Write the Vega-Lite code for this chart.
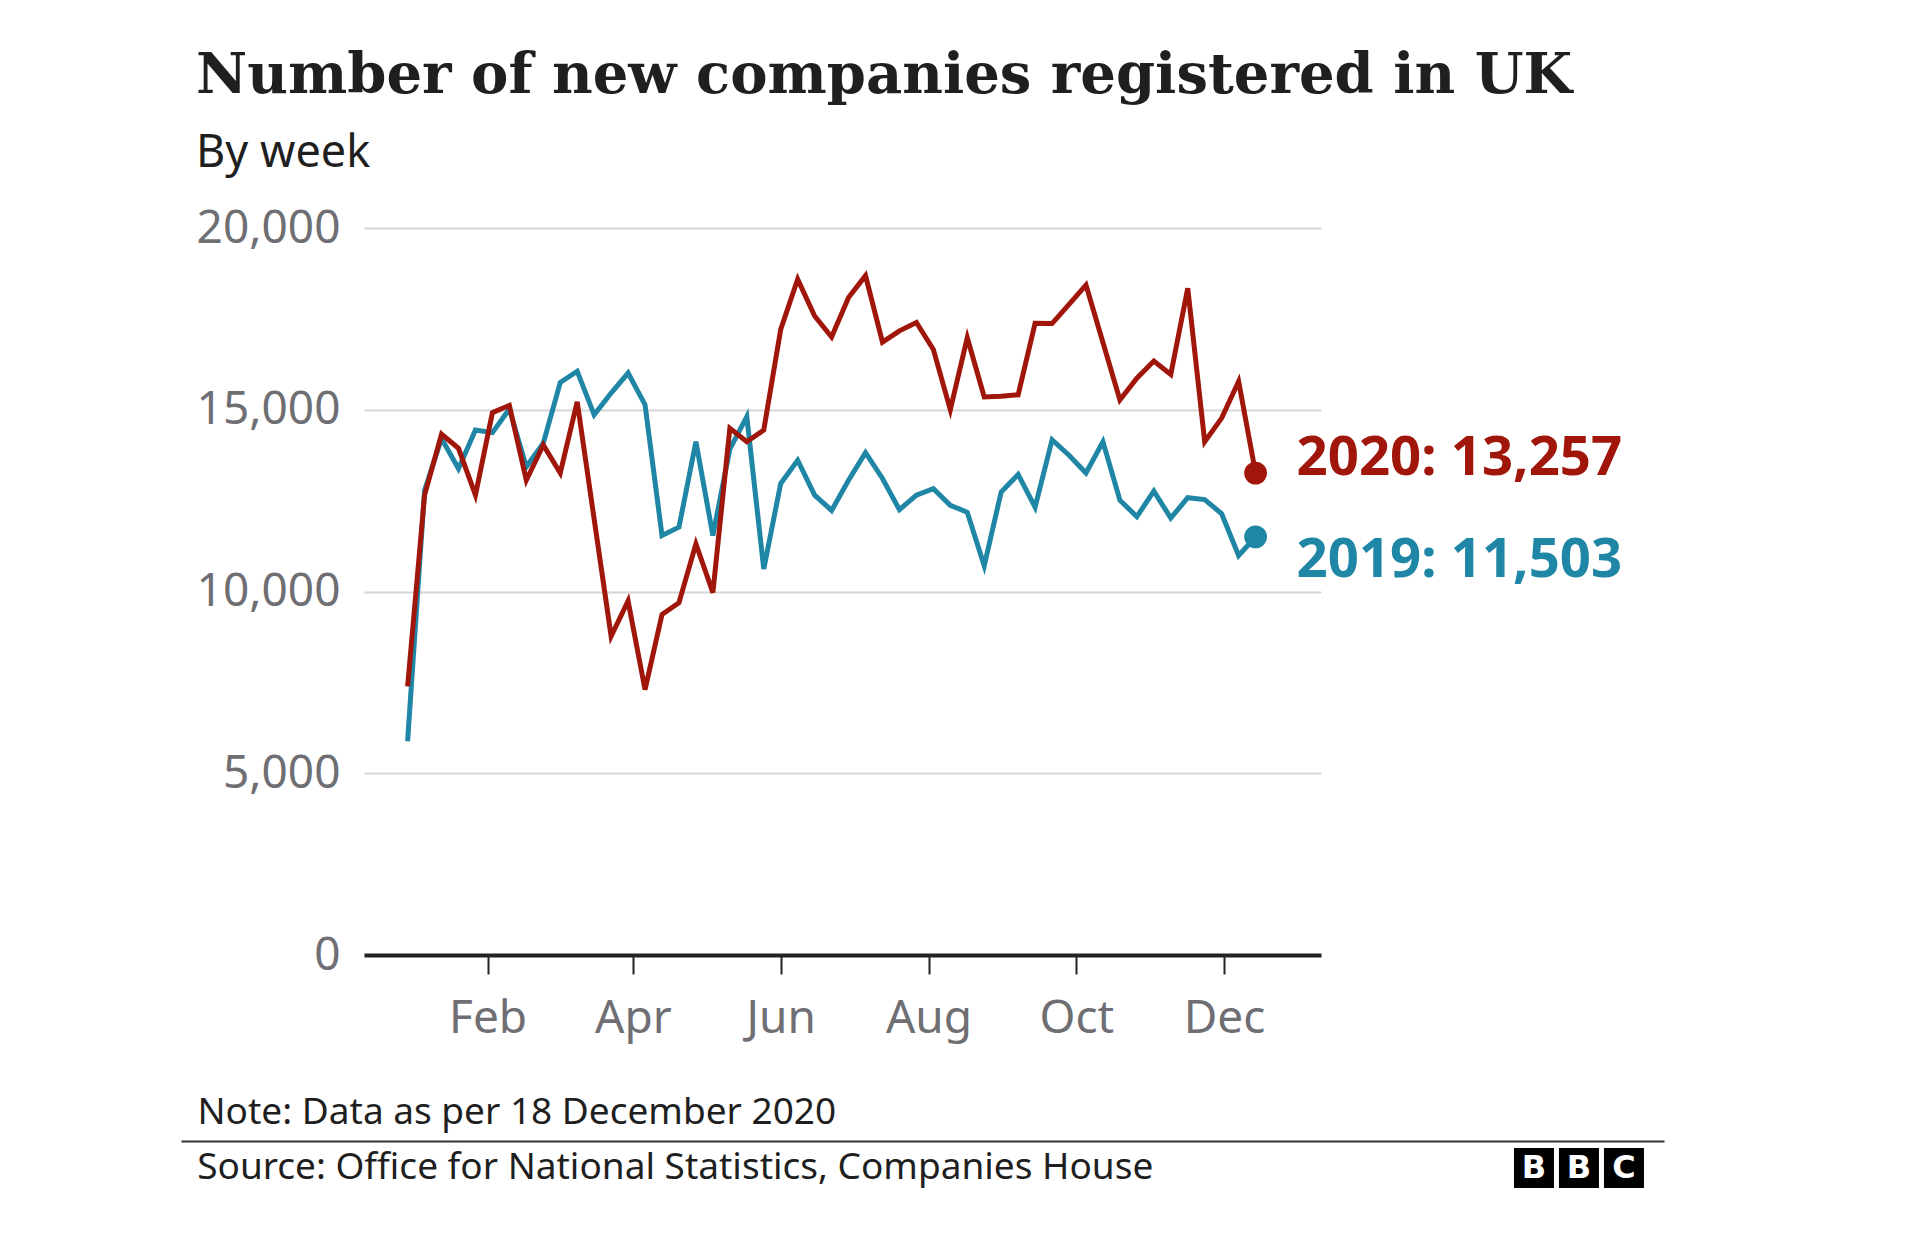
{
  "$schema": "https://vega.github.io/schema/vega-lite/v6.json",
  "background": "white",
  "padding": {"left": 196, "top": 48, "right": 10, "bottom": 10},
  "spacing": 52,
  "align": "none",
  "config": {"view": {"stroke": null}, "font": "Noto Sans"},
  "datasets": {
    "weekly": [
      {"year": "2019", "week": "2019-12-30", "companies": 5880},
      {"year": "2019", "week": "2020-01-06", "companies": 12780},
      {"year": "2019", "week": "2020-01-13", "companies": 14210},
      {"year": "2019", "week": "2020-01-20", "companies": 13380},
      {"year": "2019", "week": "2020-01-27", "companies": 14440},
      {"year": "2019", "week": "2020-02-03", "companies": 14370},
      {"year": "2019", "week": "2020-02-10", "companies": 15020},
      {"year": "2019", "week": "2020-02-17", "companies": 13430},
      {"year": "2019", "week": "2020-02-24", "companies": 14080},
      {"year": "2019", "week": "2020-03-02", "companies": 15750},
      {"year": "2019", "week": "2020-03-09", "companies": 16060},
      {"year": "2019", "week": "2020-03-16", "companies": 14860},
      {"year": "2019", "week": "2020-03-23", "companies": 15460},
      {"year": "2019", "week": "2020-03-30", "companies": 16010},
      {"year": "2019", "week": "2020-04-06", "companies": 15140},
      {"year": "2019", "week": "2020-04-13", "companies": 11540},
      {"year": "2019", "week": "2020-04-20", "companies": 11770},
      {"year": "2019", "week": "2020-04-27", "companies": 14120},
      {"year": "2019", "week": "2020-05-04", "companies": 11540},
      {"year": "2019", "week": "2020-05-11", "companies": 13920},
      {"year": "2019", "week": "2020-05-18", "companies": 14810},
      {"year": "2019", "week": "2020-05-25", "companies": 10620},
      {"year": "2019", "week": "2020-06-01", "companies": 12970},
      {"year": "2019", "week": "2020-06-08", "companies": 13610},
      {"year": "2019", "week": "2020-06-15", "companies": 12650},
      {"year": "2019", "week": "2020-06-22", "companies": 12230},
      {"year": "2019", "week": "2020-06-29", "companies": 13060},
      {"year": "2019", "week": "2020-07-06", "companies": 13820},
      {"year": "2019", "week": "2020-07-13", "companies": 13110},
      {"year": "2019", "week": "2020-07-20", "companies": 12250},
      {"year": "2019", "week": "2020-07-27", "companies": 12650},
      {"year": "2019", "week": "2020-08-03", "companies": 12830},
      {"year": "2019", "week": "2020-08-10", "companies": 12370},
      {"year": "2019", "week": "2020-08-17", "companies": 12180},
      {"year": "2019", "week": "2020-08-24", "companies": 10710},
      {"year": "2019", "week": "2020-08-31", "companies": 12740},
      {"year": "2019", "week": "2020-09-07", "companies": 13220},
      {"year": "2019", "week": "2020-09-14", "companies": 12320},
      {"year": "2019", "week": "2020-09-21", "companies": 14170},
      {"year": "2019", "week": "2020-09-28", "companies": 13750},
      {"year": "2019", "week": "2020-10-05", "companies": 13260},
      {"year": "2019", "week": "2020-10-12", "companies": 14120},
      {"year": "2019", "week": "2020-10-19", "companies": 12510},
      {"year": "2019", "week": "2020-10-26", "companies": 12060},
      {"year": "2019", "week": "2020-11-02", "companies": 12760},
      {"year": "2019", "week": "2020-11-09", "companies": 12020},
      {"year": "2019", "week": "2020-11-16", "companies": 12580},
      {"year": "2019", "week": "2020-11-23", "companies": 12530},
      {"year": "2019", "week": "2020-11-30", "companies": 12140},
      {"year": "2019", "week": "2020-12-07", "companies": 10990},
      {"year": "2019", "week": "2020-12-14", "companies": 11503},
      {"year": "2020", "week": "2019-12-30", "companies": 7390},
      {"year": "2020", "week": "2020-01-06", "companies": 12650},
      {"year": "2020", "week": "2020-01-13", "companies": 14330},
      {"year": "2020", "week": "2020-01-20", "companies": 13940},
      {"year": "2020", "week": "2020-01-27", "companies": 12650},
      {"year": "2020", "week": "2020-02-03", "companies": 14920},
      {"year": "2020", "week": "2020-02-10", "companies": 15120},
      {"year": "2020", "week": "2020-02-17", "companies": 13060},
      {"year": "2020", "week": "2020-02-24", "companies": 14030},
      {"year": "2020", "week": "2020-03-02", "companies": 13260},
      {"year": "2020", "week": "2020-03-09", "companies": 15220},
      {"year": "2020", "week": "2020-03-16", "companies": 11990},
      {"year": "2020", "week": "2020-03-23", "companies": 8770},
      {"year": "2020", "week": "2020-03-30", "companies": 9740},
      {"year": "2020", "week": "2020-04-06", "companies": 7300},
      {"year": "2020", "week": "2020-04-13", "companies": 9370},
      {"year": "2020", "week": "2020-04-20", "companies": 9690},
      {"year": "2020", "week": "2020-04-27", "companies": 11310},
      {"year": "2020", "week": "2020-05-04", "companies": 9970},
      {"year": "2020", "week": "2020-05-11", "companies": 14490},
      {"year": "2020", "week": "2020-05-18", "companies": 14120},
      {"year": "2020", "week": "2020-05-25", "companies": 14440},
      {"year": "2020", "week": "2020-06-01", "companies": 17210},
      {"year": "2020", "week": "2020-06-08", "companies": 18590},
      {"year": "2020", "week": "2020-06-15", "companies": 17580},
      {"year": "2020", "week": "2020-06-22", "companies": 17000},
      {"year": "2020", "week": "2020-06-29", "companies": 18090},
      {"year": "2020", "week": "2020-07-06", "companies": 18690},
      {"year": "2020", "week": "2020-07-13", "companies": 16860},
      {"year": "2020", "week": "2020-07-20", "companies": 17170},
      {"year": "2020", "week": "2020-07-27", "companies": 17400},
      {"year": "2020", "week": "2020-08-03", "companies": 16660},
      {"year": "2020", "week": "2020-08-10", "companies": 15000},
      {"year": "2020", "week": "2020-08-17", "companies": 16980},
      {"year": "2020", "week": "2020-08-24", "companies": 15350},
      {"year": "2020", "week": "2020-08-31", "companies": 15370},
      {"year": "2020", "week": "2020-09-07", "companies": 15410},
      {"year": "2020", "week": "2020-09-14", "companies": 17380},
      {"year": "2020", "week": "2020-09-21", "companies": 17370},
      {"year": "2020", "week": "2020-09-28", "companies": 17900},
      {"year": "2020", "week": "2020-10-05", "companies": 18430},
      {"year": "2020", "week": "2020-10-12", "companies": 16850},
      {"year": "2020", "week": "2020-10-19", "companies": 15270},
      {"year": "2020", "week": "2020-10-26", "companies": 15870},
      {"year": "2020", "week": "2020-11-02", "companies": 16340},
      {"year": "2020", "week": "2020-11-09", "companies": 15970},
      {"year": "2020", "week": "2020-11-16", "companies": 18340},
      {"year": "2020", "week": "2020-11-23", "companies": 14120},
      {"year": "2020", "week": "2020-11-30", "companies": 14770},
      {"year": "2020", "week": "2020-12-07", "companies": 15780},
      {"year": "2020", "week": "2020-12-14", "companies": 13257}
    ],
    "ends": [
      {"year": "2019", "week": "2020-12-14", "companies": 11503, "label": "2019: 11,503"},
      {"year": "2020", "week": "2020-12-14", "companies": 13257, "label": "2020: 13,257"}
    ],
    "logo": [
      {"slot": 1, "letter": "B"},
      {"slot": 2, "letter": "B"},
      {"slot": 3, "letter": "C"}
    ]
  },
  "vconcat": [
    {
      "width": 957,
      "height": 727,
      "title": {
        "text": "Number of new companies registered in UK",
        "subtitle": "By week",
        "anchor": "start",
        "font": "DejaVu Serif",
        "fontSize": 56,
        "fontWeight": "bold",
        "color": "#1f1f1f",
        "subtitleFont": "Noto Sans",
        "subtitleFontSize": 45,
        "subtitleColor": "#1f1f1f",
        "subtitlePadding": 26,
        "offset": 28
      },
      "encoding": {
        "x": {
          "field": "week",
          "type": "temporal",
          "scale": {
            "type": "utc",
            "domain": [
              {"year": 2019, "month": 12, "date": 12, "utc": true},
              {"year": 2021, "month": 1, "date": 10, "utc": true}
            ]
          },
          "axis": {
            "title": null,
            "values": [
              {"year": 2020, "month": 2, "date": 1, "utc": true},
              {"year": 2020, "month": 4, "date": 1, "utc": true},
              {"year": 2020, "month": 6, "date": 1, "utc": true},
              {"year": 2020, "month": 8, "date": 1, "utc": true},
              {"year": 2020, "month": 10, "date": 1, "utc": true},
              {"year": 2020, "month": 12, "date": 1, "utc": true}
            ],
            "labelExpr": "utcFormat(datum.value, '%b')",
            "labelFont": "Noto Sans",
            "labelFontSize": 46,
            "labelColor": "#6e6e73",
            "labelPadding": 22,
            "labelFlush": false,
            "labelOverlap": false,
            "tickColor": "#222222",
            "tickSize": 19,
            "tickWidth": 2,
            "domainColor": "#222222",
            "domainWidth": 4,
            "grid": false
          }
        },
        "y": {
          "field": "companies",
          "type": "quantitative",
          "scale": {"domain": [0, 20000], "nice": false},
          "axis": {
            "title": null,
            "values": [0, 5000, 10000, 15000, 20000],
            "labelExpr": "format(datum.value, ',')",
            "labelFont": "Noto Sans",
            "labelFontSize": 46,
            "labelColor": "#6e6e73",
            "labelPadding": 24,
            "ticks": false,
            "domain": false,
            "grid": true,
            "gridColor": "#d6d6d6",
            "gridWidth": 2
          }
        },
        "color": {
          "field": "year",
          "type": "nominal",
          "scale": {"domain": ["2019", "2020"], "range": ["#1f86a5", "#a1160b"]},
          "legend": null
        }
      },
      "layer": [
        {
          "data": {"name": "weekly"},
          "mark": {"type": "line", "strokeWidth": 5}
        },
        {
          "data": {"name": "ends"},
          "mark": {"type": "point", "filled": true, "size": 520, "opacity": 1}
        },
        {
          "data": {"name": "ends"},
          "transform": [{"filter": {"field": "year", "equal": "2020"}}],
          "mark": {"type": "text", "align": "left", "baseline": "middle", "dx": 41, "dy": -14, "font": "Noto Sans", "fontSize": 54.5, "fontWeight": "bold"},
          "encoding": {"text": {"field": "label"}}
        },
        {
          "data": {"name": "ends"},
          "transform": [{"filter": {"field": "year", "equal": "2019"}}],
          "mark": {"type": "text", "align": "left", "baseline": "middle", "dx": 41, "dy": 24, "font": "Noto Sans", "fontSize": 54.5, "fontWeight": "bold"},
          "encoding": {"text": {"field": "label"}}
        }
      ]
    },
    {
      "width": 1300,
      "height": 54,
      "layer": [
        {
          "data": {"name": "logo"},
          "mark": {"type": "square", "size": 1600, "filled": true, "color": "#000000", "opacity": 1},
          "encoding": {
            "x": {
              "field": "slot",
              "type": "quantitative",
              "scale": {"domain": [-29.07, 3.89], "range": [-183, 1300], "nice": false, "zero": false},
              "axis": {
                "orient": "top",
                "title": "Note: Data as per 18 December 2020",
                "titleAnchor": "start",
                "titleAlign": "left",
                "titleX": -167,
                "titleFont": "Noto Sans",
                "titleFontSize": 37,
                "titleFontWeight": "normal",
                "titleColor": "#1f1f1f",
                "titlePadding": 10,
                "labels": false,
                "ticks": false,
                "grid": false,
                "domain": true,
                "domainColor": "#333333",
                "domainWidth": 2
              }
            }
          }
        },
        {
          "data": {"name": "logo"},
          "mark": {"type": "text", "color": "#ffffff", "font": "DejaVu Sans", "fontWeight": "bold", "fontSize": 32, "baseline": "middle", "align": "center"},
          "encoding": {
            "x": {"field": "slot", "type": "quantitative"},
            "text": {"field": "letter"}
          }
        },
        {
          "data": {"values": [{"source": "Source: Office for National Statistics, Companies House"}]},
          "mark": {"type": "text", "align": "left", "baseline": "middle", "font": "Noto Sans", "fontSize": 37, "color": "#1f1f1f"},
          "encoding": {
            "x": {"datum": -28.71, "type": "quantitative"},
            "text": {"field": "source"}
          }
        }
      ]
    }
  ]
}
